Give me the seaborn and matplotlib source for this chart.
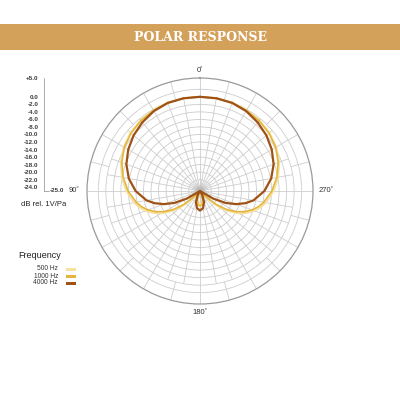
import numpy as np
import matplotlib
matplotlib.use("Agg")
import matplotlib.pyplot as plt
from matplotlib.patches import Rectangle
from matplotlib.lines import Line2D
import seaborn as sns

# ---------------- data ----------------
ANGLES_DEG = [0, 10, 20, 30, 40, 50, 60, 70, 80, 90, 100, 105, 110, 115, 120, 125,
              130, 135, 140, 145, 150, 160, 170, 180, 190, 200, 210, 215, 220, 225,
              230, 235, 240, 245, 250, 255, 260, 270, 280, 290, 300, 310, 320, 330,
              340, 350, 360]

DB_500 = [0, 0, 0, -0.2, -0.5, -0.9, -1.6, -2.6, -3.9, -5.4, -7.2, -8.3, -9.6, -11.2,
          -13.2, -15.5, -18.3, -22, -25, -25, -24.8, -23.2, -21.8, -21.4, -21.8, -23.2,
          -24.8, -25, -25, -22, -18.3, -15.5, -13.2, -11.2, -9.6, -8.3, -7.2, -5.4,
          -3.9, -2.6, -1.6, -0.9, -0.5, -0.2, 0, 0, 0]

DB_1000 = [0, 0, -0.1, -0.3, -0.6, -1.1, -1.8, -2.9, -4.3, -5.9, -7.8, -8.9, -10.3,
           -12.0, -14.0, -16.5, -19.5, -23, -25, -25, -24.5, -22.8, -21.4, -21.0, -21.4,
           -22.8, -24.5, -25, -25, -23, -19.5, -16.5, -14.0, -12.0, -10.3, -8.9, -7.8,
           -5.9, -4.3, -2.9, -1.8, -1.1, -0.6, -0.3, -0.1, 0, 0]

DB_4000 = [0, 0, -0.1, -0.5, -1.2, -2.0, -3.0, -4.2, -5.8, -7.9, -10.6, -12.5, -14.8,
           -17.5, -21, -25, -25, -25, -25, -25, -23.8, -21.8, -20.4, -19.8, -20.4, -21.8,
           -23.8, -25, -25, -25, -25, -25, -21, -17.5, -14.8, -12.5, -10.6, -7.9, -5.8,
           -4.2, -3.0, -2.0, -1.2, -0.5, -0.1, 0, 0]

SERIES_NAMES = ["500 Hz", "1000 Hz", "4000 Hz"]
SERIES_VALUES = [DB_500, DB_1000, DB_4000]
SERIES_COLORS = ["#F5E2A0", "#E6B53C", "#9E5216"]
SERIES_WIDTHS = [1.3, 1.2, 1.6]

SCALE_TICKS = [5, 0, -2, -4, -6, -8, -10, -12, -14, -16, -18, -20, -22, -24]
SCALE_LABELS = ["+5.0", "0.0", "-2.0", "-4.0", "-6.0", "-8.0", "-10.0", "-12.0",
                "-14.0", "-16.0", "-18.0", "-20.0", "-22.0", "-24.0"]
RING_LEVELS = [-24, -22, -20, -18, -16, -14, -12, -10, -8, -6, -4, -2, 0, 2]

# ---------------- styling ----------------
sns.set_style("white")
plt.rcParams["font.family"] = ["Liberation Sans", "DejaVu Sans"]

W = H = 400.0
fig = plt.figure(figsize=(4, 4), dpi=100)

def fx(x):
    return x / W

def fy(y):
    return 1 - y / H

# title banner
fig.patches.append(Rectangle((0, fy(50)), 1, 26 / H, transform=fig.transFigure,
                             facecolor="#D3A15A", edgecolor="none", zorder=0))
fig.text(0.5, fy(37.5), "POLAR RESPONSE", ha="center", va="center", color="white",
         fontsize=9, fontweight="bold", family="DejaVu Serif")

# polar axes
cx, cy, R = 200, 191, 113
ax = fig.add_axes([fx(cx - R), fy(cy + R), 2 * R / W, 2 * R / H], projection="polar")
ax.set_theta_zero_location("N")
ax.set_theta_direction(1)

# grid: rings and spokes
grid_c = "#cdcdcd"
ax.vlines(np.deg2rad(np.arange(0, 360, 10)), -25, 0, color=grid_c, lw=0.6, zorder=1)
ax.vlines(np.deg2rad(np.arange(0, 360, 15)), 0, 5, color=grid_c, lw=0.6, zorder=1)

theta = np.deg2rad(ANGLES_DEG)
for name, vals, col, lw in zip(SERIES_NAMES, SERIES_VALUES, SERIES_COLORS, SERIES_WIDTHS):
    sns.lineplot(x=theta, y=vals, ax=ax, color=col, lw=lw, sort=False,
                 estimator=None, legend=False, zorder=3)

# centre shading
for s, a in [(160, 0.05), (90, 0.07), (40, 0.1), (12, 0.15)]:
    ax.scatter([0], [-25], s=s, color="#888888", alpha=a, edgecolors="none", zorder=2)

ax.set_ylim(-25, 5)
ax.set_yticks(RING_LEVELS)
ax.set_yticklabels([])
ax.set_xticks([])
ax.yaxis.grid(True, color=grid_c, lw=0.6)
ax.xaxis.grid(False)
ax.spines["polar"].set_color("#9a9a9a")
ax.spines["polar"].set_linewidth(0.9)
ax.set_xlabel("")
ax.set_ylabel("")

# angle labels
lab_c = "#333333"
fig.text(fx(200), fy(70), "0˚", ha="center", va="center", fontsize=5.5, color=lab_c)
fig.text(fx(200), fy(313), "180˚", ha="center", va="center", fontsize=5.5, color=lab_c)
fig.text(fx(74), fy(191), "90˚", ha="center", va="center", fontsize=5.5, color=lab_c)
fig.text(fx(326), fy(191), "270˚", ha="center", va="center", fontsize=5.5, color=lab_c)

# dB scale on the left
sax = fig.add_axes([fx(44), fy(cy), 0.0001, R / H])
sax.set_ylim(-25, 5)
sax.patch.set_visible(False)
for sp in ["top", "right", "bottom"]:
    sax.spines[sp].set_visible(False)
sax.spines["left"].set_color("#888888")
sax.spines["left"].set_linewidth(0.5)
sax.set_xticks([])
sax.set_yticks(SCALE_TICKS)
sax.set_yticklabels(SCALE_LABELS, fontweight="bold")
sax.tick_params(axis="y", direction="out", length=2.5, width=0.5, colors="#888888",
                labelcolor="#3a3a3a", labelsize=4.5, pad=1.5)
fig.lines.append(Line2D([fx(44), fx(49)], [fy(cy), fy(cy)], transform=fig.transFigure,
                        color="#888888", lw=0.5))
fig.text(fx(50), fy(cy), "-25.0", ha="left", va="center", fontsize=4.5,
         fontweight="bold", color="#3a3a3a")
fig.text(fx(21), fy(204), "dB rel. 1V/Pa", ha="left", va="center", fontsize=5.5,
         color="#222222")

# legend
fig.text(fx(18), fy(256), "Frequency", ha="left", va="center", fontsize=6.5,
         color="#222222")
leg_y = [269, 276, 283]
for name, col, yy in zip(SERIES_NAMES, SERIES_COLORS, leg_y):
    fig.text(fx(58), fy(yy), name, ha="right", va="center", fontsize=4.8, color="#333333")
    fig.patches.append(Rectangle((fx(66), fy(yy + 1.5)), 10 / W, 3 / H,
                                 transform=fig.transFigure, facecolor=col,
                                 edgecolor="none"))

fig.savefig("out.png", dpi=100)
